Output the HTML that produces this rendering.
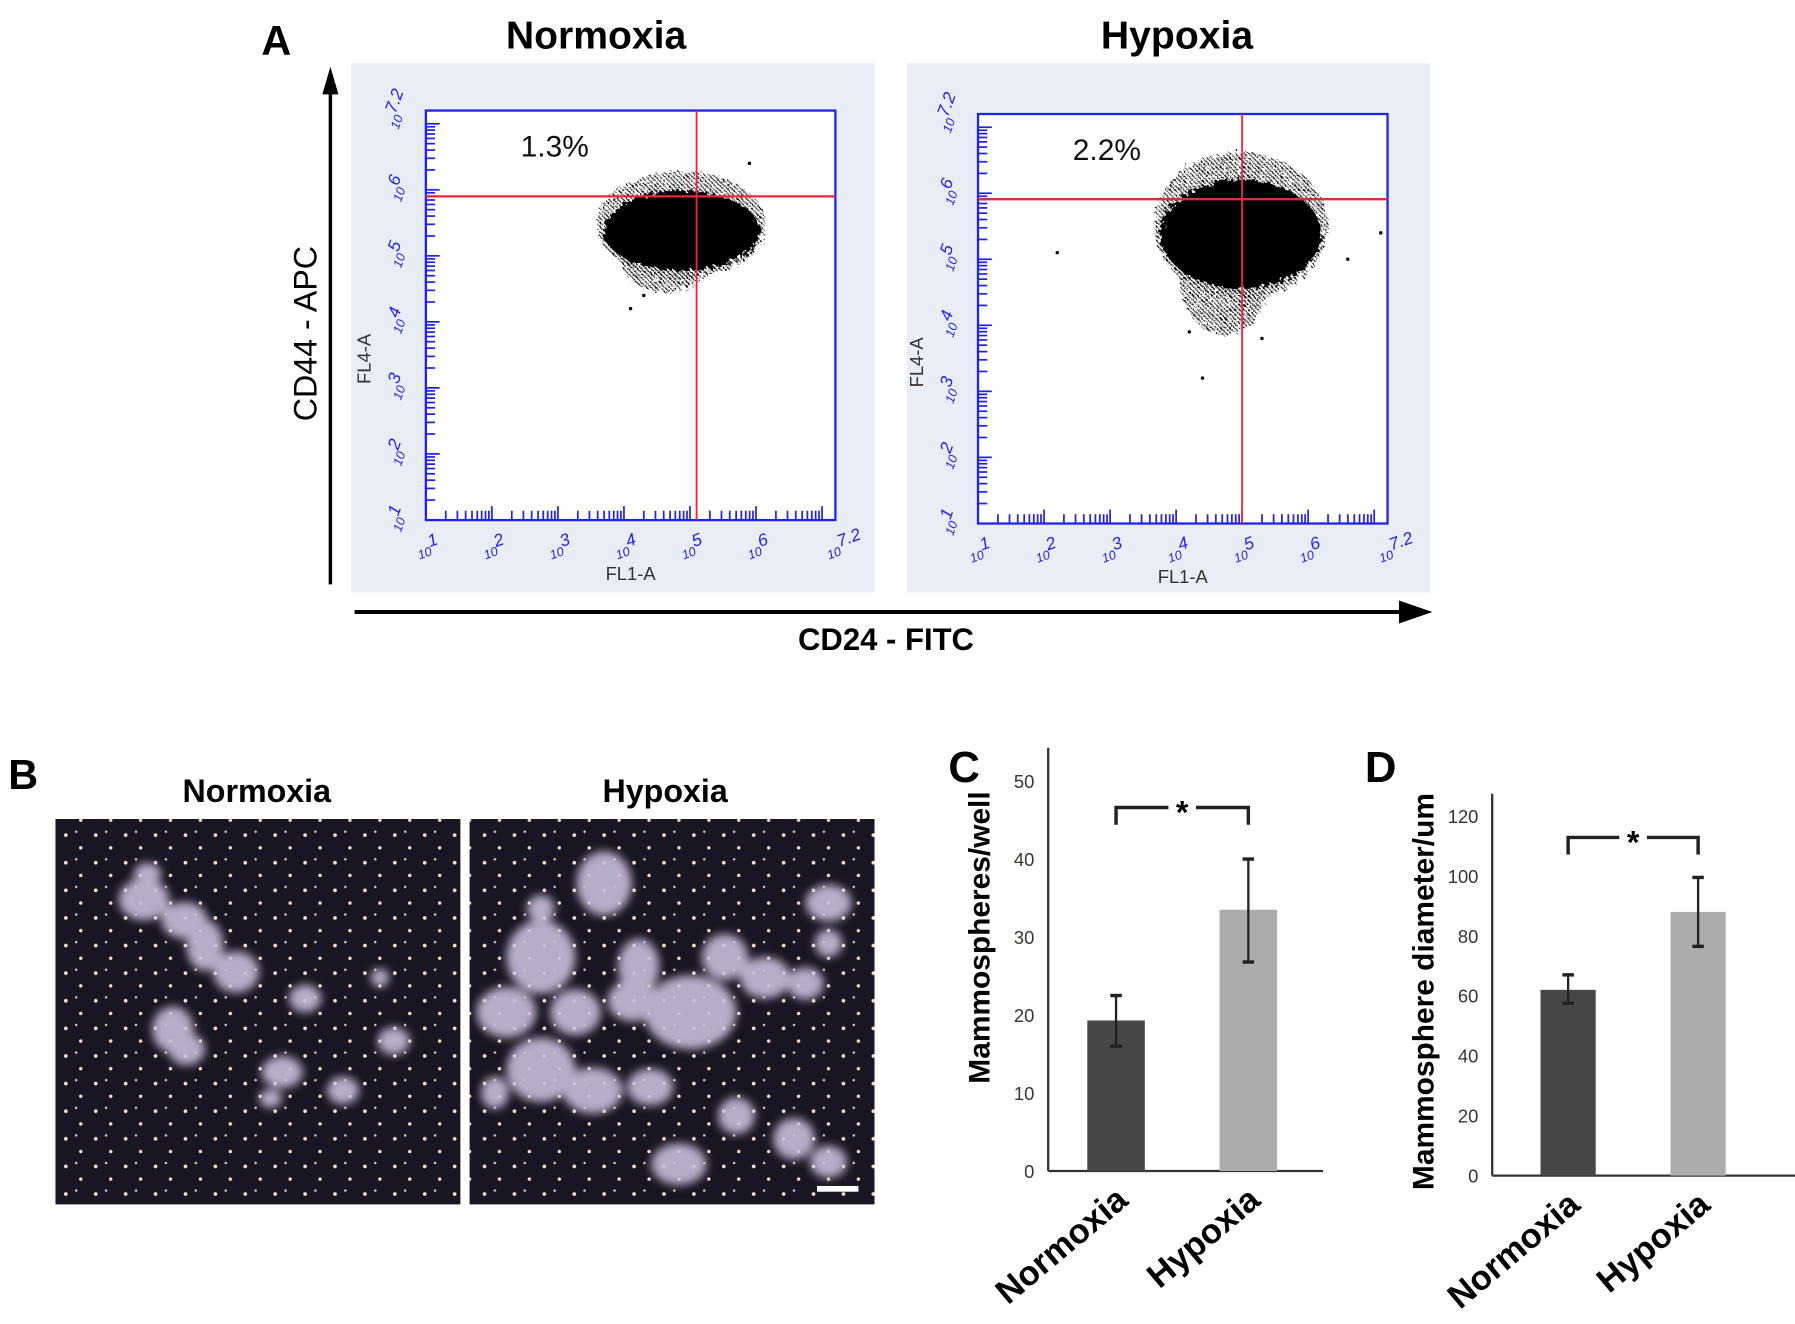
<!DOCTYPE html>
<html><head><meta charset="utf-8">
<style>
html,body{margin:0;padding:0;background:#fff;}
svg{display:block;font-family:"Liberation Sans",sans-serif;}
</style></head>
<body>
<svg id="fig" width="1795" height="1324" viewBox="0 0 1560 1151" xmlns="http://www.w3.org/2000/svg">
<defs>
  <pattern id="speck" width="4" height="4" patternUnits="userSpaceOnUse">
    <rect x="0.5" y="0.5" width="1.8" height="1.8" fill="#000"/>
    <rect x="2.5" y="2.5" width="1.3" height="1.3" fill="#000"/>
  </pattern>
  <pattern id="stars" width="26" height="24" patternUnits="userSpaceOnUse">
    <circle cx="5" cy="6" r="1.6" fill="#f4e6c8"/>
    <circle cx="18" cy="17" r="1.5" fill="#f0e0c0"/>
    <circle cx="14" cy="3" r="1.1" fill="#d8c8b0"/>
  </pattern>
  <filter id="blur3"><feGaussianBlur stdDeviation="4"/></filter>
  <filter id="rough"><feTurbulence type="fractalNoise" baseFrequency="0.25" numOctaves="2" result="n"/><feDisplacementMap in="SourceGraphic" in2="n" scale="10"/></filter>
</defs>
<g id="root"></g>
</svg>
<script>
// ---- Flow cytometry data (log10 units) ----
const flowPanels = ["Normoxia", "Hypoxia"];
const flowPercents = ["1.3%", "2.2%"];
const gateX = [5.1, 5.0];
const gateY = [5.9, 5.91];
const cloudCx = [4.87, 4.98];
const cloudCy = [5.38, 5.38];
const cloudRx = [1.22, 1.25];
const cloudRy = [0.62, 0.85];
const outlierX = [[4.1, 4.3, 5.9], [2.2, 4.2, 4.4, 5.3, 6.6, 7.1]];
const outlierY = [[4.2, 4.4, 6.4], [5.1, 3.9, 3.2, 3.8, 5.0, 5.4]];
const logTicks = ["1", "2", "3", "4", "5", "6", "7.2"];
const logVals = [1, 2, 3, 4, 5, 6, 7.2];

// ---- Bar chart data ----
const barCats = ["Normoxia", "Hypoxia"];
const cVals = [19.3, 33.5];
const cLow = [16.0, 26.8];
const cHigh = [22.5, 40.0];
const cTicks = [0, 10, 20, 30, 40, 50];
const dVals = [62, 88];
const dLow = [57.5, 76.5];
const dHigh = [67, 99.5];
const dTicks = [0, 20, 40, 60, 80, 100, 120];

const NS = "http://www.w3.org/2000/svg";
const root = document.getElementById("root");
function mk(tag, attrs, parent, text){
  const e = document.createElementNS(NS, tag);
  for (const k in attrs) e.setAttribute(k, attrs[k]);
  if (text !== undefined) e.textContent = text;
  (parent || root).appendChild(e);
  return e;
}

// ---------- Panel A ----------
let t;
t = mk("text", {x:240, y:48, "font-size":36, "font-weight":"bold", "text-anchor":"middle"}, root, "A");



const panelX0 = [305, 788];
const boxX0 = [370, 850];
const boxY1 = [452, 455];
const titleX = [518, 1023];
flowPanels.forEach((name, i) => {
  const g = mk("g", {});
  
  
  const title = mk("text", {x:titleX[i], y:42, "font-size":34, "font-weight":"bold", "text-anchor":"middle"}, g, name);
  
  
  const bg = mk("rect", {x:panelX0[i], y:55, width:455, height:460, fill:"#e9eef6"}, g);
  
  
  const bx0 = boxX0[i], by1 = boxY1[i], S = 57.4;
  const sx = v => bx0 + (v - 1) * S;
  const sy = v => by1 - (v - 1) * S;
  const plot = mk("rect", {x:bx0, y:sy(7.2), width:356, height:356, fill:"#fff", stroke:"#2222ee", "stroke-width":2}, g);
  
  
  for (let d = 1; d < 7.2; d++) {
    for (let m = 1; m < 10; m++) {
      const v = d + Math.log10(m);
      if (v > 7.2) break;
      const len = m === 1 ? 12 : 8;
      mk("line", {x1:sx(v), x2:sx(v), y1:by1, y2:by1 - len, stroke:"#2222ee", "stroke-width":1.5}, g);
      mk("line", {x1:bx0, x2:bx0 + len, y1:sy(v), y2:sy(v), stroke:"#2222ee", "stroke-width":1.5}, g);
    }
  }
  logVals.forEach((v, k) => {
    const xl = mk("text", {x:sx(v) - 8, y:by1 + 32, "font-size":14, fill:"#2222ee", "font-style":"italic", transform:`rotate(-20 ${sx(v)} ${by1+26})`}, g);
    mk("tspan", {"font-size":11}, xl, "10");
    mk("tspan", {dy:-7, "font-size":15}, xl, logTicks[k]);
    
    
    const yl = mk("text", {x:bx0 - 22, y:sy(v) + 4, "font-size":14, fill:"#2222ee", "font-style":"italic", transform:`rotate(-70 ${bx0-22} ${sy(v)})`, "text-anchor":"middle"}, g);
    mk("tspan", {"font-size":11}, yl, "10");
    mk("tspan", {dy:-7, "font-size":15}, yl, logTicks[k]);
    
    
  });
  const fl1 = mk("text", {x:bx0 + 178, y:by1 + 52, "font-size":16, "text-anchor":"middle", fill:"#333"}, g, "FL1-A");
  
  
  const fl4 = mk("text", {x:bx0 - 48, y:by1 - 140, "font-size":16, "text-anchor":"middle", fill:"#333", transform:`rotate(-90 ${bx0-48} ${by1-140})`}, g, "FL4-A");
  
  
  const cg = mk("g", {}, g);
  
  
  const cx = sx(cloudCx[i]), cy = sy(cloudCy[i]), rx = cloudRx[i] * S, ry = cloudRy[i] * S;
  mk("ellipse", {cx:cx, cy:cy - ry * 0.15, rx:rx * 1.05, ry:ry * 1.3, fill:"url(#speck)", filter:"url(#rough)"}, cg);
  mk("ellipse", {cx:cx - rx * 0.2, cy:cy + ry * 0.7, rx:rx * 0.55, ry:ry * (i ? 1.1 : 0.8), fill:"url(#speck)", filter:"url(#rough)"}, cg);
  mk("ellipse", {cx:cx, cy:cy, rx:rx * 0.97, ry:ry * 0.97, fill:"#000", filter:"url(#rough)"}, cg);
  outlierX[i].forEach((ox, k) => {
    const p = mk("circle", {cx:sx(ox), cy:sy(outlierY[i][k]), r:1.5, fill:"#000"}, cg);
    
    
  });
  const gv = mk("line", {x1:sx(gateX[i]), x2:sx(gateX[i]), y1:sy(7.2), y2:by1, stroke:"#e8283c", "stroke-width":1.6}, g);
  
  
  const gh = mk("line", {x1:bx0, x2:bx0 + 356, y1:sy(gateY[i]), y2:sy(gateY[i]), stroke:"#e8283c", "stroke-width":2}, g);
  
  
  const pct = mk("text", {x:bx0 + 112, y:sy(7.2) + 40, "font-size":26, "text-anchor":"middle", fill:"#111"}, g, flowPercents[i]);
  
  
});
let a = mk("line", {x1:287, y1:508, x2:287, y2:75, stroke:"#000", "stroke-width":3});


a = mk("polygon", {points:"287,58 280,82 294,82", fill:"#000"});


t = mk("text", {x:275, y:290, "font-size":28, "text-anchor":"middle", transform:"rotate(-90 275 290)"}, root, "CD44 - APC");


a = mk("line", {x1:308, y1:532, x2:1225, y2:532, stroke:"#000", "stroke-width":3.5});


a = mk("polygon", {points:"1245,532 1216,522 1216,542", fill:"#000"});


t = mk("text", {x:770, y:565, "font-size":27, "font-weight":"bold", "text-anchor":"middle"}, root, "CD24 - FITC");



// ---------- Panel B ----------
t = mk("text", {x:20, y:686, "font-size":36, "font-weight":"bold", "text-anchor":"middle"}, root, "B");


const imgX = [48, 408];
const imgTitles = ["Normoxia", "Hypoxia"];
const imgTitleX = [223, 578];
const blobs = [
  [[125,782,22,18],[160,800,20,16],[178,822,16,22],[205,845,20,18],[150,895,18,20],[162,912,16,14],[245,932,18,14],[265,868,14,12],[298,948,14,12],[342,905,14,12],[128,760,12,10],[235,955,10,8],[330,850,8,8]],
  [[525,768,24,28],[470,832,30,32],[500,880,22,20],[440,880,26,22],[470,930,30,28],[555,840,18,24],[600,880,40,32],[550,870,22,18],[515,948,26,20],[565,945,20,16],[630,832,20,20],[665,850,22,18],[700,855,16,14],[720,785,20,16],[640,970,16,16],[690,990,18,18],[720,1010,16,14],[590,1012,24,18],[430,950,12,14],[470,790,12,12],[720,820,12,12]]
];
imgX.forEach((x0, i) => {
  const g = mk("g", {});
  
  
  const tt = mk("text", {x:imgTitleX[i], y:697, "font-size":28, "font-weight":"bold", "text-anchor":"middle"}, g, imgTitles[i]);
  
  
  mk("rect", {x:x0, y:712, width:352, height:335, fill:"#1a1522"}, g);
  mk("rect", {x:x0, y:712, width:352, height:335, fill:"url(#stars)"}, g);
  const bg = mk("g", {filter:"url(#blur3)", opacity:0.9}, g);
  blobs[i].forEach(b => mk("ellipse", {cx:b[0], cy:b[1], rx:b[2], ry:b[3], fill:"#c9bedc"}, bg));
});
a = mk("rect", {x:710, y:1031, width:36, height:5, fill:"#fff"});



// ---------- Bar charts ----------
function barChart(o){
  const g = mk("g", {});
  
  
  const sy = v => o.y0 - v * o.k;
  const L = mk("text", {x:o.lx, y:o.ly, "font-size":38, "font-weight":"bold", "text-anchor":"middle"}, g, o.letter);
  
  
  const ya = mk("line", {x1:o.ax, x2:o.ax, y1:o.yTop, y2:o.y0, stroke:"#333", "stroke-width":2}, g);
  
  
  const xa = mk("line", {x1:o.ax, x2:o.xEnd, y1:o.y0, y2:o.y0, stroke:"#333", "stroke-width":2}, g);
  
  
  o.ticks.forEach(v => {
    const tl = mk("text", {x:o.ax - 12, y:sy(v) + 6, "font-size":16, "text-anchor":"end", fill:"#3a3530"}, g, String(v));
    
    
  });
  const yt = mk("text", {x:o.tx, y:o.ty, "font-size":26, "font-weight":"bold", "text-anchor":"middle", transform:`rotate(-90 ${o.tx} ${o.ty})`}, g, o.title);
  
  
  const fills = ["#474747", "#acacac"];
  const centers = [];
  o.cats.forEach((c, i) => {
    const cx = o.bx[i] + o.bw / 2;
    centers.push(cx);
    const r = mk("rect", {x:o.bx[i], y:sy(o.vals[i]), width:o.bw, height:o.y0 - sy(o.vals[i]), fill:fills[i]}, g);
    
    
    const eb = mk("g", {stroke:"#222", "stroke-width":2}, g);
    
    
    mk("line", {x1:cx, x2:cx, y1:sy(o.hi[i]), y2:sy(o.lo[i])}, eb);
    mk("line", {x1:cx - 5, x2:cx + 5, y1:sy(o.hi[i]), y2:sy(o.hi[i]), "stroke-width":3}, eb);
    mk("line", {x1:cx - 5, x2:cx + 5, y1:sy(o.lo[i]), y2:sy(o.lo[i]), "stroke-width":3}, eb);
    const lx = cx + 12, ly = o.y0 + 28;
    const xl = mk("text", {x:lx, y:ly, "font-size":30, "font-weight":"bold", "text-anchor":"end", transform:`rotate(-40 ${lx} ${ly})`}, g, c);
    
    
  });
  const br = mk("g", {}, g);
  
  
  const by = o.brY, mid = (centers[0] + centers[1]) / 2;
  mk("polyline", {points:`${centers[0]},${by+15} ${centers[0]},${by} ${mid-12},${by}`, fill:"none", stroke:"#222", "stroke-width":3}, br);
  mk("polyline", {points:`${mid+12},${by} ${centers[1]},${by} ${centers[1]},${by+15}`, fill:"none", stroke:"#222", "stroke-width":3}, br);
  mk("text", {x:mid, y:by + 14, "font-size":28, "font-weight":"bold", "text-anchor":"middle"}, br, "*");
}
barChart({name:"chart-c-mammospheres-per-well", letter:"C", lx:838, ly:680, ax:911, y0:1018, yTop:650, xEnd:1150, k:6.78,
  ticks:cTicks, cats:barCats, vals:cVals, lo:cLow, hi:cHigh, bx:[945,1060], bw:50, brY:702,
  title:"Mammospheres/well", tx:860, ty:815});
barChart({name:"chart-d-mammosphere-diameter", letter:"D", lx:1200, ly:680, ax:1297, y0:1022, yTop:690, xEnd:1573, k:2.605,
  ticks:dTicks, cats:barCats, vals:dVals, lo:dLow, hi:dHigh, bx:[1339,1452], bw:48, brY:728,
  title:"Mammosphere diameter/um", tx:1246, ty:862});
</script>
</body></html>
